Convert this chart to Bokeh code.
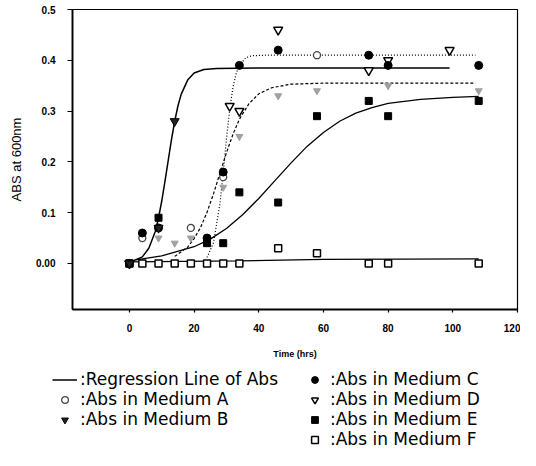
from bokeh.plotting import figure
from bokeh.models import Range1d, FixedTicker, Legend, LegendItem
from bokeh.embed import file_html
from bokeh.resources import INLINE

# ---------------- data ----------------
x_ticks = [0, 20, 40, 60, 80, 100, 120]
y_ticks = [0, 0.1, 0.2, 0.3, 0.4, 0.5]
y_tick_labels = ["0.00", "0.1", "0.2", "0.3", "0.4", "0.5"]

# measured absorbance per medium
medA_t = [0, 4, 19, 29, 58]
medA_abs = [0.0, 0.05, 0.07, 0.17, 0.41]

medB_t = [0, 9, 14]
medB_abs = [0.0, 0.07, 0.28]

# second (faint) replicate of medium B
medB2_t = [9, 14, 19, 24, 29, 34, 46, 58, 80, 108]
medB2_abs = [0.05, 0.04, 0.05, 0.045, 0.15, 0.25, 0.33, 0.34, 0.35, 0.34]

medC_t = [0, 4, 9, 24, 29, 34, 46, 74, 80, 108]
medC_abs = [0.0, 0.06, 0.07, 0.05, 0.18, 0.39, 0.42, 0.41, 0.39, 0.39]

medD_t = [0, 31, 34, 46, 74, 80, 99]
medD_abs = [0.0, 0.31, 0.30, 0.46, 0.38, 0.40, 0.42]

medE_t = [0, 9, 24, 29, 34, 46, 58, 74, 80, 108]
medE_abs = [0.0, 0.09, 0.04, 0.04, 0.14, 0.12, 0.29, 0.32, 0.29, 0.32]

medF_t = [0, 4, 9, 14, 19, 24, 29, 34, 46, 58, 74, 80, 108]
medF_abs = [0, 0, 0, 0, 0, 0, 0, 0, 0.03, 0.02, 0, 0, 0]

# regression lines
reg1_t = [0, 4, 6, 8, 9, 10, 11, 12, 13, 14, 15, 16, 18, 20, 23, 27, 40, 99]
reg1_abs = [0.002, 0.013, 0.030, 0.063, 0.090, 0.123, 0.162, 0.203, 0.244, 0.280,
            0.310, 0.333, 0.361, 0.375, 0.382, 0.384, 0.385, 0.385]

reg2_t = [24, 26, 28, 29, 30, 31, 32, 33, 34, 36, 38, 42, 107]
reg2_abs = [0.012, 0.041, 0.118, 0.178, 0.245, 0.303, 0.346, 0.374, 0.390, 0.405,
            0.409, 0.410, 0.410]

reg3_t = [14, 18, 20, 22, 24, 26, 28, 30, 32, 34, 37, 40, 44, 50, 60, 107]
reg3_abs = [0.014, 0.032, 0.049, 0.071, 0.101, 0.137, 0.178, 0.218, 0.254, 0.284,
            0.315, 0.334, 0.346, 0.353, 0.355, 0.355]

reg4_t = [2, 10, 20, 25, 30, 35, 40, 45, 50, 55, 60, 65, 70, 75, 80, 90, 100, 108]
reg4_abs = [0.007, 0.015, 0.033, 0.048, 0.069, 0.096, 0.128, 0.163, 0.198, 0.231,
            0.258, 0.280, 0.296, 0.307, 0.315, 0.323, 0.327, 0.329]

reg5_t = [0, 34, 60, 108]
reg5_abs = [0.003, 0.005, 0.008, 0.009]

legend_labels = [":Regression Line of Abs", ":Abs in Medium A", ":Abs in Medium B",
                 ":Abs in Medium C", ":Abs in Medium D", ":Abs in Medium E",
                 ":Abs in Medium F"]

# ---------------- styles ----------------
FONT = "Liberation Sans"
REG_STYLE = dict(line_color="black", line_width=1.5)
STY_A = dict(marker="circle", size=7, fill_color="white", line_color="#444444", line_width=1.3)
STY_B = dict(marker="inverted_triangle", size=9, fill_color="#222222", line_color="black")
STY_C = dict(marker="circle", size=8, fill_color="black", line_color="black")
STY_D = dict(marker="inverted_triangle", size=9, fill_color="white", line_color="black", line_width=1.5)
STY_E = dict(marker="square", size=7, fill_color="black", line_color="black")
STY_F = dict(marker="square", size=7, fill_color="white", line_color="black", line_width=1.5)

# ---------------- main plot ----------------
p = figure(width=520, height=368, output_backend="svg", toolbar_location=None,
           x_range=Range1d(-17.6, 120), y_range=Range1d(-0.0906, 0.5),
           min_border_left=72, min_border_right=3, min_border_top=9,
           min_border_bottom=59, background_fill_color="white",
           border_fill_color="white")
p.grid.visible = False
p.outline_line_color = "black"
p.outline_line_width = 1.2

p.xaxis.ticker = FixedTicker(ticks=x_ticks)
p.yaxis.ticker = FixedTicker(ticks=y_ticks)
p.yaxis.major_label_overrides = dict(zip(y_ticks, y_tick_labels))
for ax in (p.xaxis[0], p.yaxis[0]):
    ax.axis_line_width = 1.8
    ax.axis_line_color = "black"
    ax.major_tick_line_color = "black"
    ax.major_tick_line_width = 1.2
    ax.minor_tick_line_color = None
    ax.major_tick_in = 0
    ax.major_label_text_font = FONT
    ax.major_label_text_font_size = "10px"
    ax.major_label_text_font_style = "bold"
    ax.major_label_text_color = "black"
    ax.axis_label_text_color = "black"
    ax.axis_label_text_font = FONT

p.yaxis.major_tick_out = 5
p.yaxis.major_label_standoff = 12
p.yaxis.axis_label = "ABS at 600nm"
p.yaxis.axis_label_text_font_size = "13px"
p.yaxis.axis_label_text_font_style = "normal"
p.yaxis.axis_label_standoff = 9

p.xaxis.major_tick_out = 3
p.xaxis.major_label_standoff = 11
p.xaxis.axis_label = "Time (hrs)"
p.xaxis.axis_label_text_font_size = "9px"
p.xaxis.axis_label_text_font_style = "bold"
p.xaxis.axis_label_standoff = 14

# regression lines
p.line(reg1_t, reg1_abs, **REG_STYLE)
p.line(reg2_t, reg2_abs, line_color="black", line_width=1.2, line_dash="1 2")
p.line(reg3_t, reg3_abs, line_color="black", line_width=1.2, line_dash="3 2")
p.line(reg4_t, reg4_abs, line_color="black", line_width=1.3)
p.line(reg5_t, reg5_abs, line_color="black", line_width=1.3)

# measured points
p.scatter(medB2_t, medB2_abs, marker="inverted_triangle", size=7,
          fill_color="#a0a0a0", line_color="#a0a0a0")
p.scatter(medF_t, medF_abs, **STY_F)
p.scatter(medE_t, medE_abs, **STY_E)
p.scatter(medD_t, medD_abs, **STY_D)
p.scatter(medA_t, medA_abs, **STY_A)
p.scatter(medC_t, medC_abs, **STY_C)
p.scatter(medB_t, medB_abs, **STY_B)

# ---------------- legend panel (separate root below the plot) ----------------
q = figure(width=520, height=92, output_backend="svg", toolbar_location=None,
           x_range=Range1d(0, 1), y_range=Range1d(0, 1),
           x_axis_type=None, y_axis_type=None, min_border=0,
           outline_line_color=None, background_fill_color="white",
           border_fill_color="white")
q.grid.visible = False

NAN = float("nan")
g_reg = q.line([NAN, NAN], [NAN, NAN], **REG_STYLE)
g_A = q.scatter([NAN], [NAN], **STY_A)
g_B = q.scatter([NAN], [NAN], **STY_B)
g_C = q.scatter([NAN], [NAN], **STY_C)
g_D = q.scatter([NAN], [NAN], **STY_D)
g_E = q.scatter([NAN], [NAN], **STY_E)
g_F = q.scatter([NAN], [NAN], **STY_F)
g_blank = q.scatter([NAN], [NAN], size=1, fill_alpha=0, line_alpha=0)

rends = [g_reg, g_A, g_B, g_blank, g_C, g_D, g_E, g_F]
labels = legend_labels[:3] + [" "] + legend_labels[3:]
legend = Legend(items=[LegendItem(label=l, renderers=[r]) for l, r in zip(labels, rends)],
                location=(52, 11), orientation="vertical", ncols=2,
                label_text_font="DejaVu Sans", label_text_font_size="17px",
                label_text_color="black", label_height=17, glyph_height=17,
                glyph_width=25, label_standoff=3, label_width=222, spacing=-7,
                padding=0, margin=0, border_line_alpha=0,
                background_fill_alpha=0)
q.add_layout(legend)

open("out.html", "w").write(file_html([p, q], INLINE))
